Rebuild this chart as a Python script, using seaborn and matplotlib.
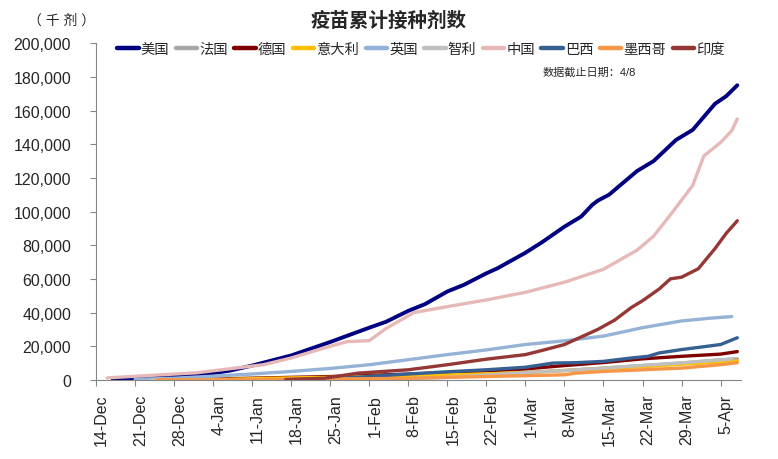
import pandas as pd
import numpy as np
import matplotlib
matplotlib.use("Agg")
import matplotlib.pyplot as plt
import matplotlib.dates as mdates
from matplotlib.transforms import ScaledTranslation
import seaborn as sns

# days counted from 14-Dec-2020, values in thousand doses
start = pd.Timestamp("2020-12-14")

us_days = [3, 10, 18, 24, 28, 35, 42, 49, 52, 56, 59, 63, 66, 70, 72, 77, 80, 84, 87, 89, 90, 92, 97, 100, 104, 107, 111, 113, 115]
us_vals = [300, 1000, 2500, 5500, 8500, 14500, 22500, 31000, 34500, 41000, 45000, 52500, 56500, 63300, 66300, 75500, 81800, 91000, 97000, 104000, 106500, 110000, 124000, 130000, 142500, 148500, 164000, 168500, 175000]

fr_days = [13, 21, 28, 35, 42, 49, 56, 63, 70, 77, 84, 91, 98, 105, 112, 115]
fr_vals = [0, 100, 300, 700, 1100, 1600, 2200, 3000, 3700, 4500, 5600, 7000, 8500, 10000, 11900, 12500]

de_days = [13, 21, 28, 35, 42, 49, 56, 63, 70, 77, 84, 91, 98, 105, 112, 115]
de_vals = [0, 500, 1000, 1500, 2000, 2700, 3400, 4300, 5300, 6500, 8500, 10300, 12500, 14000, 15300, 16800]

it_days = [13, 21, 28, 35, 42, 49, 56, 63, 70, 77, 84, 91, 98, 105, 112, 115]
it_vals = [0, 200, 700, 1200, 1500, 2000, 2600, 3000, 3600, 4400, 5500, 6900, 7800, 9300, 10600, 11300]

uk_days = [7, 14, 21, 28, 35, 42, 49, 56, 63, 70, 77, 84, 91, 98, 105, 110, 114]
uk_vals = [300, 1000, 2200, 3500, 5000, 6800, 9000, 12000, 15000, 17800, 21000, 23200, 26000, 31000, 35000, 36600, 37600]

cl_days = [10, 42, 49, 56, 63, 70, 77, 84, 91, 98, 105, 112, 114]
cl_vals = [0, 50, 100, 700, 1500, 2900, 4300, 5500, 7000, 8600, 10100, 11900, 12400]

cn_days = [2, 18, 30, 35, 42, 45, 49, 52, 57, 63, 70, 77, 84, 91, 97, 100, 103, 107, 109, 112, 114, 115]
cn_vals = [1200, 4200, 9000, 13000, 20000, 22700, 23300, 30500, 40000, 43500, 47500, 52000, 58000, 65700, 77000, 85400, 98000, 115500, 133000, 141000, 148000, 155000]

br_days = [34, 42, 49, 56, 63, 70, 77, 82, 86, 91, 96, 99, 101, 105, 109, 112, 115]
br_vals = [0, 800, 2000, 3500, 4800, 6000, 7500, 10000, 10200, 11000, 13000, 14000, 16000, 18000, 19700, 21000, 25000]

mx_days = [11, 21, 28, 35, 42, 49, 56, 63, 70, 77, 84, 86, 91, 98, 105, 112, 115]
mx_vals = [0, 50, 100, 400, 600, 700, 900, 1500, 2000, 2500, 3000, 4000, 5000, 6000, 7000, 9000, 10200]

in_days = [34, 41, 47, 56, 63, 70, 77, 80, 84, 87, 90, 93, 96, 98, 101, 103, 105, 108, 111, 113, 115]
in_vals = [200, 1000, 4000, 6000, 9000, 12300, 15000, 17500, 21000, 25500, 30000, 35500, 43000, 47000, 54000, 60000, 61000, 66000, 78000, 87000, 94500]

countries = ["美国", "法国", "德国", "意大利", "英国", "智利", "中国", "巴西", "墨西哥", "印度"]
colors = ["#000080", "#A6A6A6", "#800000", "#FFC000", "#95B3D7",
          "#BFBFBF", "#E6B9B8", "#376092", "#F79646", "#953735"]
series = [(us_days, us_vals), (fr_days, fr_vals), (de_days, de_vals), (it_days, it_vals),
          (uk_days, uk_vals), (cl_days, cl_vals), (cn_days, cn_vals), (br_days, br_vals),
          (mx_days, mx_vals), (in_days, in_vals)]

rows = []
for name, (d, v) in zip(countries, series):
    for dd, vv in zip(d, v):
        rows.append({"date": start + pd.Timedelta(days=dd), "value": vv, "country": name})
df = pd.DataFrame(rows)

sns.set_style("ticks")
plt.rcParams['font.family'] = ['Liberation Sans', 'Noto Sans CJK SC', 'DejaVu Sans']

fig = plt.figure(figsize=(7.78, 4.6), dpi=100)
ax = fig.add_axes([0.1234, 0.172, 0.8286, 0.732])

sns.lineplot(data=df, x="date", y="value", hue="country", hue_order=countries,
             palette=colors, linewidth=2.4, ax=ax, legend=False)
ax.lines[0].set_linewidth(2.8)

ax.set_xlim(start + pd.Timedelta(days=1.25), start + pd.Timedelta(days=115.6))
ax.set_ylim(0, 200000)
ax.set_yticks(np.arange(0, 200001, 20000))
ax.yaxis.set_major_formatter(matplotlib.ticker.StrMethodFormatter("{x:,.0f}"))
ax.set_xticks([start + pd.Timedelta(days=7 * k) for k in range(17)])
ax.xaxis.set_major_formatter(mdates.DateFormatter("%-d-%b"))
ax.tick_params(axis="y", labelsize=11.5, length=4, color="#868686", pad=14)
ax.tick_params(axis="x", labelsize=11.5, length=4, color="#868686", rotation=90, pad=6)
for lab in ax.get_xticklabels():
    lab.set_transform(lab.get_transform() + ScaledTranslation(4 / 72, 0, fig.dpi_scale_trans))
ax.set_xlabel("")
ax.set_ylabel("")
sns.despine(ax=ax)
for s in ["left", "bottom"]:
    ax.spines[s].set_color("#868686")

handles = [plt.Line2D([], [], color=c, linewidth=3.2) for c in colors]
fig.legend(handles, countries, loc="center", bbox_to_anchor=(0.541, 0.891), ncol=10,
           frameon=False, fontsize=10.3, handlelength=1.5, handletextpad=0.15,
           columnspacing=0.45)

fig.text(0.5, 0.955, "疫苗累计接种剂数", ha="center", va="center", fontsize=14, fontweight="bold")
fig.text(0.079, 0.955, "（ 千 剂 ）", ha="center", va="center", fontsize=10)
fig.text(0.758, 0.842, "数据截止日期：4/8", ha="center", va="center", fontsize=8)

fig.savefig("out.png", dpi=100)
